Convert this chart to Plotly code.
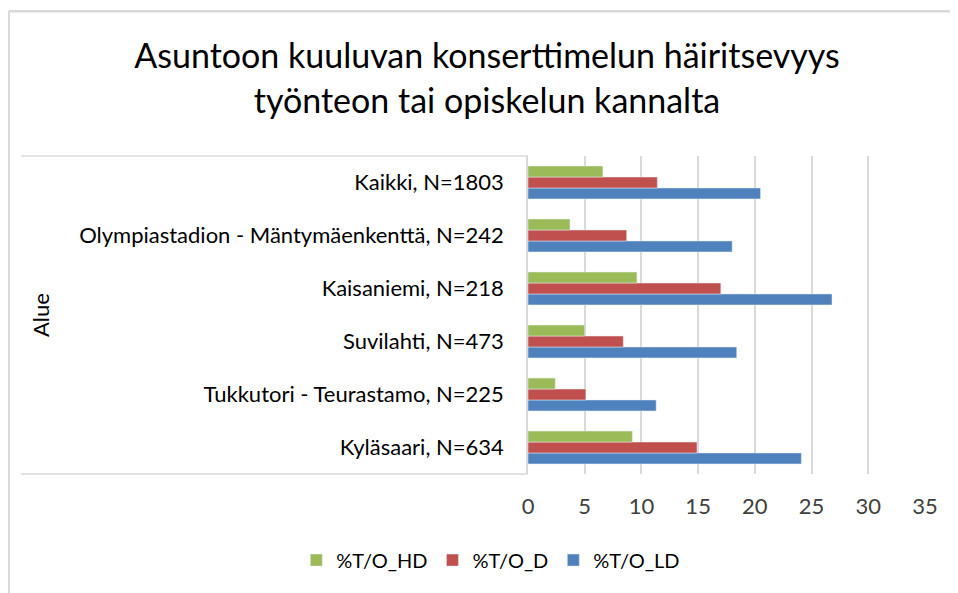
import plotly.graph_objects as go

# categories listed bottom-to-top (plotly draws the first category at the bottom)
categories = [
    "Kyläsaari, N=634",
    "Tukkutori - Teurastamo, N=225",
    "Suvilahti, N=473",
    "Kaisaniemi, N=218",
    "Olympiastadion - Mäntymäenkenttä, N=242",
    "Kaikki, N=1803",
]
pct_ld = [24.1, 11.3, 18.4, 26.8, 18.0, 20.5]
pct_d = [14.9, 5.1, 8.4, 17.0, 8.7, 11.4]
pct_hd = [9.2, 2.4, 5.0, 9.6, 3.7, 6.6]
x_ticks = [0, 5, 10, 15, 20, 25, 30, 35]

FONT = "Lato, 'Open Sans', sans-serif"
TEXT = "#404040"

fig = go.Figure()
# first trace sits lowest inside each group
fig.add_trace(go.Bar(y=categories, x=pct_ld, name="%T/O_LD", orientation="h",
                     marker=dict(color="#4F81BD")))
fig.add_trace(go.Bar(y=categories, x=pct_d, name="%T/O_D", orientation="h",
                     marker=dict(color="#C0504D")))
fig.add_trace(go.Bar(y=categories, x=pct_hd, name="%T/O_HD", orientation="h",
                     marker=dict(color="#9BBB59")))

grey = "#D9D9D9"
shapes = [
    # chart border (only top and left edges fall inside the picture)
    dict(type="line", xref="paper", yref="paper", x0=-1.308, x1=1.2, y0=1.455, y1=1.455,
         line=dict(color=grey, width=2.5)),
    dict(type="line", xref="paper", yref="paper", x0=-1.308, x1=-1.308, y0=1.455, y1=-0.5,
         line=dict(color=grey, width=2.5)),
    # long category boundary ticks across the label area
    dict(type="line", xref="paper", yref="paper", x0=-1.277, x1=0, y0=1, y1=1,
         line=dict(color=grey, width=1.5)),
    dict(type="line", xref="paper", yref="paper", x0=-1.277, x1=0, y0=0, y1=0,
         line=dict(color=grey, width=1.5)),
]

fig.update_layout(
    width=958, height=593,
    margin=dict(l=520, r=41, t=148, b=127),
    paper_bgcolor="white", plot_bgcolor="white",
    font=dict(family=FONT, size=22, color=TEXT),
    title=dict(
        text="Asuntoon kuuluvan konserttimelun häiritsevyys<br>työnteon tai opiskelun kannalta",
        x=0.5, xref="container", xanchor="center", y=0.898, yref="container", yanchor="middle",
        font=dict(family=FONT, size=34, color="#000000"),
    ),
    barmode="group", bargap=0.38, bargroupgap=0,
    xaxis=dict(range=[0, 35], tickvals=x_ticks, showgrid=True, gridcolor=grey, gridwidth=1.5,
               zeroline=False, showline=False, ticks="", ticklabelstandoff=17,
               tickfont=dict(size=22, color=TEXT)),
    yaxis=dict(showline=True, linecolor=grey, linewidth=1.5, ticks="", ticklabelstandoff=18,
               showgrid=False, tickfont=dict(size=22, color="#000000")),
    annotations=[dict(text="Alue", textangle=-90, xref="paper", yref="paper", x=-1.229, y=0.5,
                      xanchor="center", yanchor="middle", showarrow=False,
                      font=dict(size=22, color="#000000"))],
    legend=dict(orientation="h", x=0.504, xref="container", xanchor="center", y=0.069, yref="container",
                yanchor="middle", traceorder="reversed", font=dict(size=20, color="#000000"),
                itemwidth=30),
    shapes=shapes,
)

fig.write_html("out.html")
